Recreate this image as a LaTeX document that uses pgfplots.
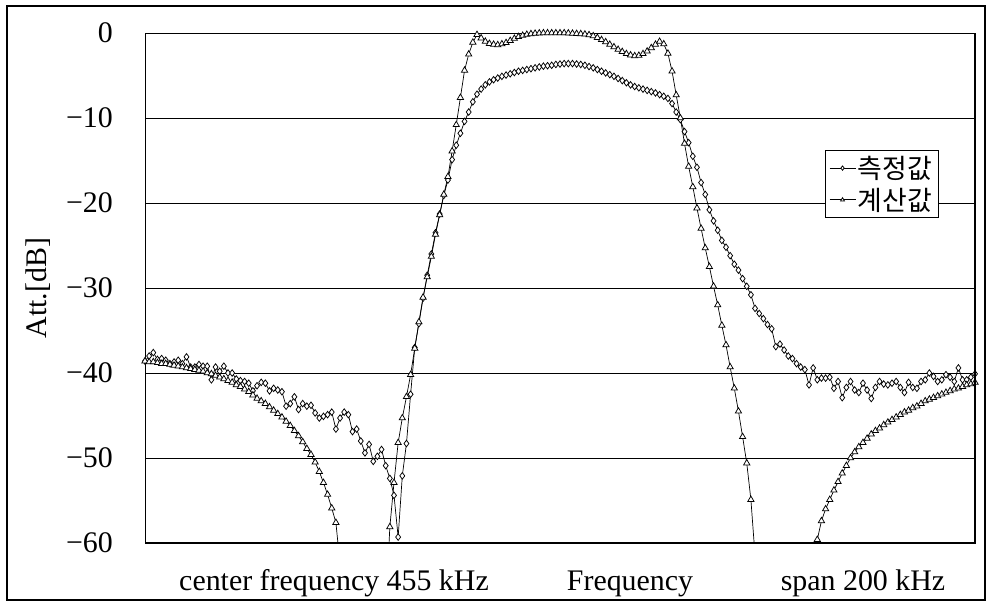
\documentclass[border=0pt]{standalone}
\usepackage{fontspec}
\setmainfont{Liberation Serif}
\newfontfamily\kor{Noto Sans CJK KR}
\usepackage{pgfplots}
\pgfplotsset{compat=1.18}
\begin{document}
\begin{tikzpicture}
\useasboundingbox (0,0) rectangle (992bp,606bp);
\fill[white] (0,0) rectangle (992bp,606bp);
\draw[line width=1.4bp] (7bp,6bp) rectangle (985bp,600bp);
\begin{axis}[
  at={(145bp,63bp)}, anchor=south west,
  width=830bp, height=510bp, scale only axis,
  xmin=-100, xmax=100, ymin=-60, ymax=0,
  xtick=\empty,
  ytick={-60,-50,-40,-30,-20,-10,0},
  yticklabels={−60,−50,−40,−30,−20,−10,0},
  yticklabel style={font=\fontsize{30}{36}\selectfont, anchor=east, inner sep=0pt, xshift=-32bp},
  major tick length=0pt,
  ymajorgrids,
  grid style={black, line width=0.7bp},
  axis line style={black, line width=0.9bp},
  legend style={at={(rel axis cs:0.819,0.771)}, anchor=north west,
    font=\kor\fontsize{27}{31}\selectfont, draw=black, line width=0.8bp,
    inner xsep=4bp, inner ysep=4bp, cells={anchor=west}, row sep=4bp},
  legend image code/.code={\draw[mark repeat=2,mark phase=2,#1,mark size=2.2bp] plot coordinates {(0bp,0bp) (13bp,0bp) (26bp,0bp)};},
]
\addplot[black, line width=0.7bp, mark=diamond*, mark size=3.3bp, mark options={fill=white, line width=0.75bp}] coordinates {
(-100,-38.6)(-99,-38.0)(-98,-37.6)(-97,-38.4)(-96,-38.3)(-95,-38.5)(-94,-38.9)(-93,-38.7)(-92,-38.5)(-91,-38.9)(-90,-38.1)(-89,-39.3)(-88,-39.3)(-87,-39.0)(-86,-39.2)(-85,-39.2)(-84,-40.8)(-83,-39.3)(-82,-39.8)(-81,-39.2)(-80,-40.0)(-79,-40.0)(-78,-40.7)(-77,-40.9)(-76,-41.0)(-75,-41.2)(-74,-42.1)(-73,-41.5)(-72,-41.1)(-71,-41.2)(-70,-42.1)(-69,-41.8)(-68,-42.0)(-67,-42.2)(-66,-43.9)(-65,-43.6)(-64,-42.8)(-63,-44.3)(-62,-43.6)(-61,-43.9)(-60,-43.8)(-59,-44.7)(-58,-45.3)(-57,-45.1)(-56,-44.9)(-55,-44.6)(-54,-46.6)(-53,-45.3)(-52,-44.6)(-51,-44.9)(-50,-46.9)(-49,-46.6)(-48,-48.0)(-47,-49.4)(-46,-48.4)(-45,-50.4)(-44,-49.8)(-43,-49.0)(-42,-50.9)(-41,-52.4)(-40,-54.4)(-39,-59.3)(-38,-52.1)(-37,-48.3)(-36,-42.5)(-35,-37.0)(-34,-34.2)(-33,-31.2)(-32,-28.5)(-31,-26.0)(-30,-23.5)(-29,-21.3)(-28,-19.1)(-27,-17.3)(-26,-14.9)(-25,-13.2)(-24,-11.8)(-23,-10.4)(-22,-9.3)(-21,-8.1)(-20,-7.2)(-19,-6.6)(-18,-6.1)(-17,-5.75)(-16,-5.5)(-15,-5.3)(-14,-5.1)(-13,-4.95)(-12,-4.8)(-11,-4.65)(-10,-4.5)(-9,-4.4)(-8,-4.3)(-7,-4.2)(-6,-4.1)(-5,-4.0)(-4,-3.9)(-3,-3.85)(-2,-3.8)(-1,-3.7)(0,-3.65)(1,-3.6)(2,-3.6)(3,-3.6)(4,-3.65)(5,-3.7)(6,-3.8)(7,-3.95)(8,-4.1)(9,-4.3)(10,-4.5)(11,-4.7)(12,-4.9)(13,-5.1)(14,-5.35)(15,-5.6)(16,-5.85)(17,-6.1)(18,-6.3)(19,-6.45)(20,-6.6)(21,-6.75)(22,-6.9)(23,-7.05)(24,-7.25)(25,-7.45)(26,-7.7)(27,-8.3)(28,-9.3)(29,-10.2)(30,-11.6)(31,-12.9)(32,-14.5)(33,-15.8)(34,-17.6)(35,-19.0)(36,-20.8)(37,-22.1)(38,-23.2)(39,-24.4)(40,-25.2)(41,-26.2)(42,-27.2)(43,-27.9)(44,-28.9)(45,-29.8)(46,-30.8)(47,-32.4)(48,-33.0)(49,-33.6)(50,-34.3)(51,-34.8)(52,-36.9)(53,-36.6)(54,-37.3)(55,-38.0)(56,-38.3)(57,-38.9)(58,-39.3)(59,-39.6)(60,-41.4)(61,-39.4)(62,-40.8)(63,-40.6)(64,-40.6)(65,-40.5)(66,-41.8)(67,-41.0)(68,-42.9)(69,-41.7)(70,-41.0)(71,-42.0)(72,-42.3)(73,-41.2)(74,-42.0)(75,-43.0)(76,-41.7)(77,-41.0)(78,-41.3)(79,-41.4)(80,-41.2)(81,-41.0)(82,-41.7)(83,-42.3)(84,-41.1)(85,-41.7)(86,-41.8)(87,-41.0)(88,-40.8)(89,-40.0)(90,-40.4)(91,-41.0)(92,-40.8)(93,-40.2)(94,-40.5)(95,-41.0)(96,-39.4)(97,-40.8)(98,-40.8)(99,-40.5)(100,-40.1)
};
\addlegendentry{측정값}
\addplot[black, line width=0.7bp, mark=triangle*, mark size=3.6bp, mark options={fill=white, line width=0.75bp}] coordinates {
(-100,-38.6)(-99,-38.7)(-98,-38.7)(-97,-38.8)(-96,-38.9)(-95,-38.9)(-94,-39.0)(-93,-39.1)(-92,-39.2)(-91,-39.3)(-90,-39.4)(-89,-39.5)(-88,-39.6)(-87,-39.7)(-86,-39.8)(-85,-40.0)(-84,-40.1)(-83,-40.3)(-82,-40.5)(-81,-40.7)(-80,-40.9)(-79,-41.1)(-78,-41.4)(-77,-41.6)(-76,-41.9)(-75,-42.2)(-74,-42.6)(-73,-43.0)(-72,-43.3)(-71,-43.6)(-70,-44.0)(-69,-44.4)(-68,-44.8)(-67,-45.2)(-66,-45.7)(-65,-46.2)(-64,-46.8)(-63,-47.4)(-62,-48.1)(-61,-48.9)(-60,-49.6)(-59,-50.5)(-58,-51.6)(-57,-52.9)(-56,-54.3)(-55,-55.9)(-54,-57.6)(-53,-62.5)
};
\addlegendentry{계산값}
\addplot[black, line width=0.7bp, mark=triangle*, mark size=3.6bp, mark options={fill=white, line width=0.75bp}, forget plot] coordinates {
(-42,-68)(-41,-58.1)(-40,-52.9)(-39,-48.2)(-38,-45.3)(-37,-42.8)(-36,-40.2)(-35,-37.1)(-34,-34.0)(-33,-31.1)(-32,-28.7)(-31,-26.3)(-30,-23.7)(-29,-21.4)(-28,-19.0)(-27,-16.9)(-26,-13.9)(-25,-10.8)(-24,-7.6)(-23,-4.4)(-22,-2.5)(-21,-1.1)(-20,-0.2)(-19,-0.6)(-18,-1.0)(-17,-1.25)(-16,-1.35)(-15,-1.4)(-14,-1.3)(-13,-1.15)(-12,-0.9)(-11,-0.65)(-10,-0.45)(-9,-0.3)(-8,-0.18)(-7,-0.1)(-6,-0.05)(-5,-0.02)(-4,0)(-3,0)(-2,0)(-1,0)(0,0)(1,0)(2,-0.02)(3,-0.05)(4,-0.08)(5,-0.1)(6,-0.15)(7,-0.22)(8,-0.35)(9,-0.55)(10,-0.8)(11,-1.05)(12,-1.35)(13,-1.65)(14,-1.95)(15,-2.2)(16,-2.45)(17,-2.6)(18,-2.7)(19,-2.65)(20,-2.45)(21,-2.15)(22,-1.75)(23,-1.35)(24,-1.0)(25,-1.3)(26,-2.4)(27,-4.5)(28,-7.3)(29,-10.0)(30,-13.0)(31,-15.7)(32,-18.1)(33,-20.6)(34,-23.0)(35,-25.3)(36,-27.5)(37,-29.8)(38,-32.0)(39,-34.4)(40,-36.7)(41,-39.3)(42,-41.8)(43,-44.5)(44,-47.5)(45,-50.6)(46,-54.9)(47,-61.5)
};
\addplot[black, line width=0.7bp, mark=triangle*, mark size=3.6bp, mark options={fill=white, line width=0.75bp}, forget plot] coordinates {
(61,-66)(62,-59.6)(63,-57.4)(64,-56.0)(65,-54.9)(66,-53.8)(67,-52.8)(68,-51.8)(69,-50.9)(70,-50.0)(71,-49.3)(72,-48.7)(73,-48.2)(74,-47.7)(75,-47.2)(76,-46.8)(77,-46.5)(78,-46.1)(79,-45.8)(80,-45.5)(81,-45.2)(82,-44.9)(83,-44.6)(84,-44.4)(85,-44.1)(86,-43.9)(87,-43.6)(88,-43.3)(89,-43.1)(90,-42.9)(91,-42.7)(92,-42.5)(93,-42.3)(94,-42.1)(95,-41.9)(96,-41.8)(97,-41.6)(98,-41.4)(99,-41.3)(100,-41.1)
};
\end{axis}
\draw[line width=2bp] (145bp,63bp) -- (975bp,63bp) -- (975bp,573bp);
\node[rotate=90, font=\fontsize{30}{36}\selectfont] at (38bp,318bp) {Att.[dB]};
\node[anchor=base, font=\fontsize{30}{36}\selectfont] at (334bp,16bp) {center frequency 455 kHz};
\node[anchor=base, font=\fontsize{30}{36}\selectfont] at (630bp,16bp) {Frequency};
\node[anchor=base, font=\fontsize{30}{36}\selectfont] at (863bp,16bp) {span 200 kHz};
\end{tikzpicture}
\end{document}
